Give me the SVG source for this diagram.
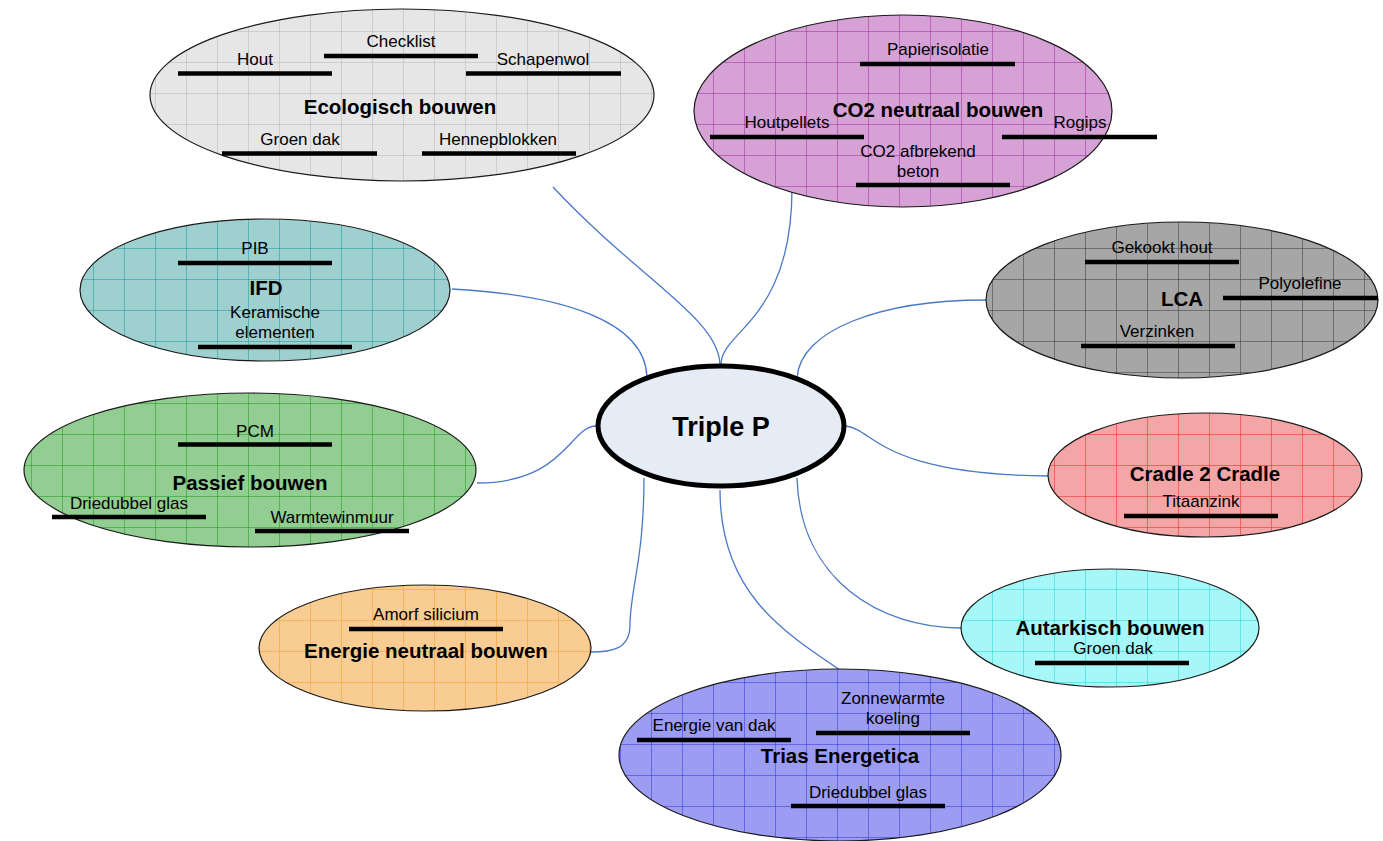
<svg xmlns="http://www.w3.org/2000/svg" width="1383" height="841" viewBox="0 0 1383 841">
<style>
.el{stroke:#1a1a1a;stroke-width:1.2}
.t{font-family:"Liberation Sans",Arial,sans-serif;font-size:17px;fill:#000;text-anchor:middle}
.b{font-family:"Liberation Sans",Arial,sans-serif;font-size:20.5px;font-weight:bold;fill:#000;text-anchor:middle}
.ul{stroke:#000;stroke-width:4.5}
.c{fill:none;stroke:#4a78c8;stroke-width:1.3}
.g{stroke-width:1;stroke-opacity:0.55}
</style>
<defs>
<pattern id="pGray" width="31" height="31" patternUnits="userSpaceOnUse"><rect width="31" height="31" fill="#e6e6e6"/><path class="g" d="M0 .5H31M.5 0V31" stroke="#b8b8b8"/></pattern>
<pattern id="pPurple" width="31" height="31" patternUnits="userSpaceOnUse"><rect width="31" height="31" fill="#d6a2d6"/><path class="g" d="M0 .5H31M.5 0V31" stroke="#a030a0"/></pattern>
<pattern id="pDark" width="31" height="31" patternUnits="userSpaceOnUse"><rect width="31" height="31" fill="#a6a6a6"/><path class="g" d="M0 .5H31M.5 0V31" stroke="#404040"/></pattern>
<pattern id="pTeal" width="31" height="31" patternUnits="userSpaceOnUse"><rect width="31" height="31" fill="#9fd0d0"/><path class="g" d="M0 .5H31M.5 0V31" stroke="#209a9a"/></pattern>
<pattern id="pGreen" width="31" height="31" patternUnits="userSpaceOnUse"><rect width="31" height="31" fill="#92cd92"/><path class="g" d="M0 .5H31M.5 0V31" stroke="#20a020"/></pattern>
<pattern id="pRed" width="31" height="31" patternUnits="userSpaceOnUse"><rect width="31" height="31" fill="#f4a6a6"/><path class="g" d="M0 .5H31M.5 0V31" stroke="#e82a2a"/></pattern>
<pattern id="pCyan" width="31" height="31" patternUnits="userSpaceOnUse"><rect width="31" height="31" fill="#a6f8f8"/><path class="g" d="M0 .5H31M.5 0V31" stroke="#28d4d4"/></pattern>
<pattern id="pOrange" width="31" height="31" patternUnits="userSpaceOnUse"><rect width="31" height="31" fill="#f8cc92"/><path class="g" d="M0 .5H31M.5 0V31" stroke="#f0a030"/></pattern>
<pattern id="pBlue" width="31" height="31" patternUnits="userSpaceOnUse"><rect width="31" height="31" fill="#9c9cf2"/><path class="g" d="M0 .5H31M.5 0V31" stroke="#3838e0"/></pattern>
</defs>
<rect width="1383" height="841" fill="#fff"/>
<g id="connectors">
<path class="c" d="M553,187 C640,280 718,318 720,364"/>
<path class="c" d="M792,188 C792,320 722,330 721,364"/>
<path class="c" d="M452,289 C560,295 645,320 647,377"/>
<path class="c" d="M986,300 C880,300 800,330 797,378"/>
<path class="c" d="M477,483 C565,483 570,426 596,426"/>
<path class="c" d="M846,426 C875,430 880,474 1048,476"/>
<path class="c" d="M797,478 C800,580 880,628 961,628"/>
<path class="c" d="M644,478 C644,560 630,590 630,625 C630,650 610,652 591,652"/>
<path class="c" d="M720,490 C720,590 780,630 840,670"/>
</g>
<g id="ecologisch">
<ellipse class="el" cx="402" cy="95" rx="252" ry="86" fill="url(#pGray)"/>
<text class="b" x="400" y="114">Ecologisch bouwen</text>
<text class="t" x="255" y="65">Hout</text><line class="ul" x1="178" y1="73.5" x2="332" y2="73.5"/>
<text class="t" x="401" y="47">Checklist</text><line class="ul" x1="324" y1="56" x2="478" y2="56"/>
<text class="t" x="543" y="65">Schapenwol</text><line class="ul" x1="466" y1="73.5" x2="621" y2="73.5"/>
<text class="t" x="300" y="145">Groen dak</text><line class="ul" x1="222" y1="153.5" x2="377" y2="153.5"/>
<text class="t" x="498" y="145">Hennepblokken</text><line class="ul" x1="422" y1="153.5" x2="576" y2="153.5"/>
</g>
<g id="co2">
<ellipse class="el" cx="903" cy="111" rx="209" ry="96" fill="url(#pPurple)"/>
<text class="b" x="938" y="117">CO2 neutraal bouwen</text>
<text class="t" x="938" y="55">Papierisolatie</text><line class="ul" x1="860" y1="64" x2="1015" y2="64"/>
<text class="t" x="787" y="128">Houtpellets</text><line class="ul" x1="710" y1="137" x2="864" y2="137"/>
<text class="t" x="1080" y="128">Rogips</text><line class="ul" x1="1002" y1="137" x2="1157" y2="137"/>
<text class="t" x="918" y="157">CO2 afbrekend</text><text class="t" x="918" y="177">beton</text><line class="ul" x1="856" y1="185" x2="1010" y2="185"/>
</g>
<g id="lca">
<ellipse class="el" cx="1182" cy="300" rx="196" ry="78" fill="url(#pDark)"/>
<text class="b" x="1182" y="306">LCA</text>
<text class="t" x="1162" y="253">Gekookt hout</text><line class="ul" x1="1085" y1="262" x2="1239" y2="262"/>
<text class="t" x="1300" y="289">Polyolefine</text><line class="ul" x1="1223" y1="298" x2="1378" y2="298"/>
<text class="t" x="1157" y="337">Verzinken</text><line class="ul" x1="1081" y1="346" x2="1235" y2="346"/>
</g>
<g id="ifd">
<ellipse class="el" cx="265" cy="290" rx="185" ry="71" fill="url(#pTeal)"/>
<text class="b" x="266" y="295">IFD</text>
<text class="t" x="255" y="254">PIB</text><line class="ul" x1="178" y1="263" x2="332" y2="263"/>
<text class="t" x="275" y="318">Keramische</text><text class="t" x="275" y="338">elementen</text><line class="ul" x1="198" y1="347" x2="352" y2="347"/>
</g>
<g id="triplep">
<ellipse cx="721" cy="426" rx="123" ry="60" fill="#e6ecf6" stroke="#000" stroke-width="5"/>
<text class="b" x="721" y="436" style="font-size:27px">Triple P</text>
</g>
<g id="passief">
<ellipse class="el" cx="250" cy="470" rx="226" ry="77" fill="url(#pGreen)"/>
<text class="b" x="250" y="490">Passief bouwen</text>
<text class="t" x="255" y="437">PCM</text><line class="ul" x1="178" y1="444.5" x2="332" y2="444.5"/>
<text class="t" x="129" y="509">Driedubbel glas</text><line class="ul" x1="52" y1="517" x2="206" y2="517"/>
<text class="t" x="332" y="523">Warmtewinmuur</text><line class="ul" x1="255" y1="531" x2="409" y2="531"/>
</g>
<g id="cradle">
<ellipse class="el" cx="1205" cy="475" rx="157" ry="62" fill="url(#pRed)"/>
<text class="b" x="1205" y="481">Cradle 2 Cradle</text>
<text class="t" x="1201" y="507">Titaanzink</text><line class="ul" x1="1124" y1="516" x2="1278" y2="516"/>
</g>
<g id="autarkisch">
<ellipse class="el" cx="1110" cy="628" rx="149" ry="59" fill="url(#pCyan)"/>
<text class="b" x="1110" y="635">Autarkisch bouwen</text>
<text class="t" x="1113" y="654">Groen dak</text><line class="ul" x1="1035" y1="663" x2="1189" y2="663"/>
</g>
<g id="energie">
<ellipse class="el" cx="425" cy="648" rx="166" ry="63" fill="url(#pOrange)"/>
<text class="t" x="426" y="620">Amorf silicium</text><line class="ul" x1="349" y1="629" x2="503" y2="629"/>
<text class="b" x="426" y="658">Energie neutraal bouwen</text>
</g>
<g id="trias">
<ellipse class="el" cx="840" cy="755" rx="221" ry="86" fill="url(#pBlue)"/>
<text class="b" x="840" y="763">Trias Energetica</text>
<text class="t" x="714" y="731">Energie van dak</text><line class="ul" x1="637" y1="740" x2="791" y2="740"/>
<text class="t" x="893" y="704">Zonnewarmte</text><text class="t" x="893" y="724">koeling</text><line class="ul" x1="816" y1="733" x2="970" y2="733"/>
<text class="t" x="868" y="798">Driedubbel glas</text><line class="ul" x1="791" y1="806" x2="945" y2="806"/>
</g>
</svg>
